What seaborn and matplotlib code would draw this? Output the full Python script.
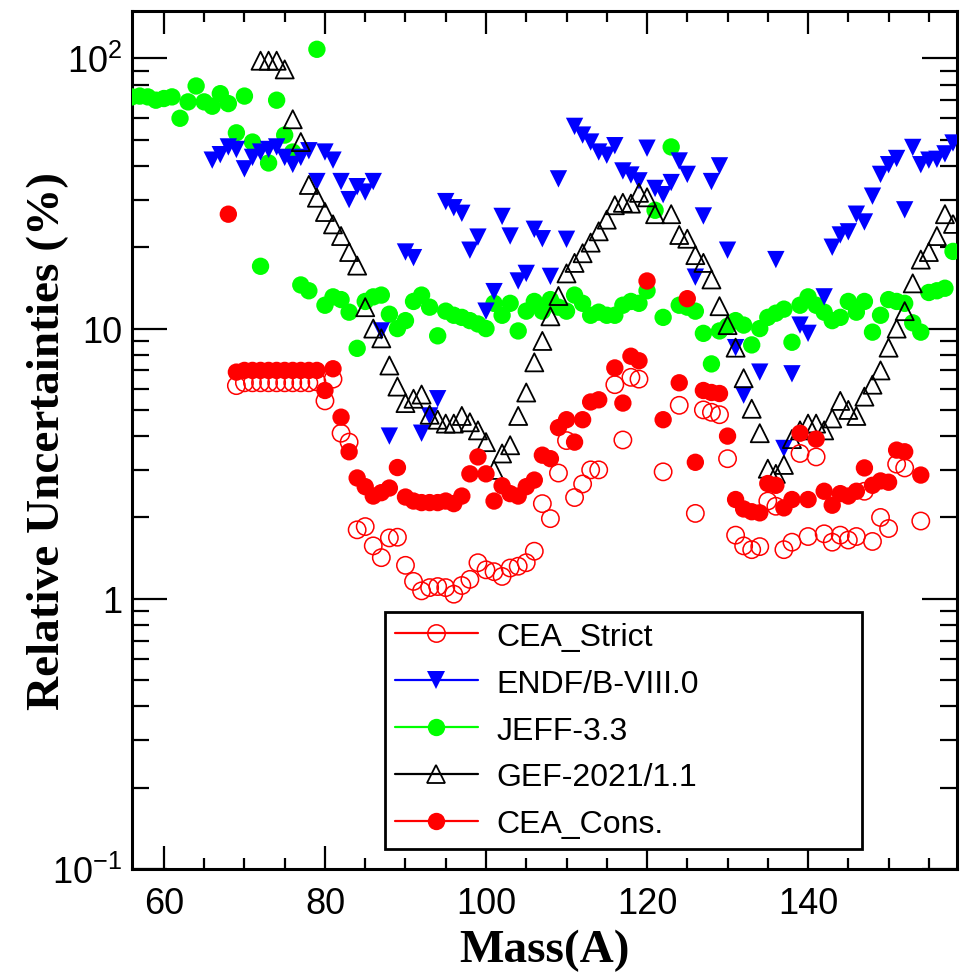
import matplotlib
matplotlib.use("Agg")
import matplotlib.pyplot as plt
import seaborn as sns
import pandas as pd
from matplotlib.lines import Line2D
from matplotlib.ticker import LogLocator, MultipleLocator, FixedLocator, FixedFormatter, NullFormatter

# ---------------------------------------------------------------- data
jeff_mass = list(range(56, 159))
jeff_unc = [72, 72.5, 72, 70, 71, 72, 60, 69, 79, 69,
            66.5, 74, 68, 53, 72.5, 49, 17, 41, 70, 52,
            45, 14.5, 13.8, 108, 12.2, 13.1, 12.8, 11.5, 8.45, 12.6,
            13.1, 13.3, 11.3, 10.0, 10.7, 12.6, 13.3, 12.0, 9.4, 11.6,
            11.2, 11.0, 10.7, 10.4, 10.0, 12.4, 11.2, 12.4, 9.8, 11.6,
            12.6, 11.6, 12.8, 12.0, 11.6, 13.3, 12.4, 11.2, 11.5, 11.2,
            11.2, 12.2, 12.6, 12.4, 13.8, 27.4, 11.0, 47, 12.2, 12.0,
            11.6, 9.6, 7.4, 9.8, 10.2, 10.7, 10.3, 8.7, 10.0, 11.0,
            11.4, 11.8, 8.9, 12.2, 13.1, 12.2, 11.5, 10.7, 11.0, 12.6,
            11.5, 12.6, 9.7, 11.2, 12.8, 12.6, 12.4, 10.5, 9.7, 13.6,
            13.8, 14.1, 19.3]

endf_mass = [66, 67, 68, 69, 70, 71, 72, 73, 74, 75, 76, 77, 78, 79, 80,
             81, 82, 83, 84, 85, 86, 87, 88, 90, 91, 92, 93, 94, 95, 96,
             97, 98, 99, 100, 101, 102, 103, 104, 105, 106, 107, 108, 109, 110, 111,
             112, 113, 114, 115, 116, 117, 118, 119, 120, 121, 122, 123, 124, 125, 126,
             127, 128, 129, 130, 131, 132, 134, 136, 137, 138, 139, 140, 142, 143, 144,
             145, 146, 147, 148, 149, 150, 151, 152, 153, 154, 155, 156, 157, 158]
endf_unc = [42, 44, 47, 46, 39, 43, 45, 46, 47, 43, 40.5, 43, 45.5, 35, 45,
            42, 35, 30, 33.5, 32, 35, 9.8, 4.0, 19.2, 18.3, 4.1, 4.75, 5.5, 29.5, 28,
            26.7, 19.5, 21.8, 11.6, 13.7, 26, 22, 15, 16, 23.3, 21.5, 15.6, 35.8, 21.4, 56,
            52, 49, 45, 43.8, 47.5, 38.3, 37, 35.2, 46.5, 33, 31.3, 34.7, 41.7, 37.2, 15.5,
            26.1, 35, 40, 19.5, 8.5, 5.67, 6.9, 18, 3.6, 6.8, 10.3, 9.6, 13.1, 20, 22.2,
            22.8, 26.5, 24.8, 30.9, 37.2, 40.4, 42.6, 27.5, 46.8, 40.4, 42, 42.3, 44.3, 48.6]

gef_mass = [72, 73, 74, 75, 76, 77, 78, 79, 80, 81, 82, 83, 84, 85, 86,
            87, 88, 89, 90, 91, 92, 93, 94, 95, 96, 97, 98, 99, 100, 101,
            102, 103, 104, 105, 106, 107, 108, 109, 110, 111, 112, 113, 114, 115, 116,
            117, 118, 119, 120, 121, 123, 124, 125, 126, 127, 128, 129, 130, 131, 132,
            133, 134, 135, 136, 137, 138, 139, 140, 141, 142, 143, 144, 145, 146, 147,
            148, 149, 150, 151, 152, 153, 154, 155, 156, 157, 158]
gef_unc = [98, 98, 98, 91, 59.5, 49, 34, 30.5, 27, 24.3, 22, 19.2, 17.1, 12, 10,
           9.2, 7.3, 6.1, 5.3, 5.5, 5.7, 4.8, 4.6, 4.45, 4.45, 4.75, 4.5, 4.2, 3.8, 3.0,
           3.45, 3.7, 4.75, 5.8, 7.5, 9.0, 11.1, 13.2, 16, 17.5, 19, 20.8, 22.9, 25.3, 28.6,
           29.2, 29.0, 31.8, 30.6, 26.5, 26.5, 22.2, 21.5, 18.7, 17.5, 15.2, 12.1, 10.3, 8.5, 6.55,
           5.05, 4.1, 3.03, 2.9, 3.13, 3.9, 4.2, 4.45, 4.45, 4.2, 4.65, 5.4, 5.0, 4.75, 5.6,
           6.2, 7.0, 8.5, 10.0, 11.6, 14.7, 18.0, 19.2, 22, 26.5, 24.4]

strict_mass = [69, 70, 71, 72, 73, 74, 75, 76, 77, 78, 79, 80, 81, 82, 83,
               84, 85, 86, 87, 88, 89, 90, 91, 92, 93, 94, 95, 96, 97, 98,
               99, 100, 101, 102, 103, 104, 105, 106, 107, 108, 109, 110, 111, 112, 113,
               114, 116, 117, 118, 119, 122, 124, 126, 127, 128, 129, 130, 131, 132, 133,
               134, 135, 136, 137, 138, 139, 140, 141, 142, 143, 144, 145, 146, 147, 148,
               149, 150, 151, 152, 154]
strict_unc = [6.15, 6.3, 6.3, 6.3, 6.3, 6.3, 6.3, 6.3, 6.3, 6.3, 6.35, 5.4, 6.5, 4.1, 3.8,
              1.8, 1.85, 1.57, 1.42, 1.68, 1.69, 1.33, 1.16, 1.07, 1.1, 1.11, 1.1, 1.04, 1.12, 1.18,
              1.36, 1.28, 1.26, 1.21, 1.3, 1.32, 1.36, 1.5, 2.25, 1.98, 2.92, 3.85, 2.37, 2.66, 3.0,
              3.0, 6.2, 3.87, 6.6, 6.5, 2.95, 5.2, 2.07, 5.0, 4.9, 4.8, 3.3, 1.72, 1.57, 1.52,
              1.56, 2.3, 2.2, 1.52, 1.62, 3.45, 1.7, 3.35, 1.74, 1.62, 1.72, 1.65, 1.7, 2.5, 1.63,
              2.0, 1.82, 3.15, 3.05, 1.94]

cons_mass = [68, 69, 70, 71, 72, 73, 74, 75, 76, 77, 78, 79, 80, 81, 82,
             83, 84, 85, 86, 87, 88, 89, 90, 91, 92, 93, 94, 95, 96, 97,
             98, 99, 100, 101, 102, 103, 104, 105, 106, 107, 108, 109, 110, 111, 112,
             113, 114, 116, 117, 118, 119, 120, 122, 124, 125, 126, 127, 128, 129, 130,
             131, 132, 133, 134, 135, 136, 137, 138, 139, 140, 141, 142, 143, 144, 145,
             146, 147, 148, 149, 150, 151, 152, 154]
cons_unc = [26.5, 6.9, 7.0, 7.0, 7.0, 7.0, 7.0, 7.0, 7.0, 7.0, 7.0, 7.0, 5.9, 7.1, 4.7,
            3.5, 2.8, 2.6, 2.4, 2.47, 2.57, 3.06, 2.38, 2.3, 2.27, 2.27, 2.27, 2.3, 2.25, 2.4,
            2.9, 3.35, 2.9, 2.3, 2.62, 2.45, 2.4, 2.6, 2.75, 3.4, 3.3, 4.3, 4.6, 3.8, 4.6,
            5.35, 5.45, 7.15, 5.3, 7.9, 7.6, 15, 4.6, 6.3, 12.9, 3.2, 5.9, 5.8, 5.75, 4.0,
            2.33, 2.15, 2.1, 2.08, 2.67, 2.63, 2.17, 2.33, 4.1, 2.33, 3.9, 2.5, 2.22, 2.45, 2.4,
            2.5, 3.05, 2.63, 2.73, 2.7, 3.55, 3.5, 2.87]

legend_labels = ["CEA_Strict", "ENDF/B-VIII.0", "JEFF-3.3", "GEF-2021/1.1", "CEA_Cons."]

# ---------------------------------------------------------------- style
sns.set_style("ticks")
plt.rcParams["font.family"] = ["Liberation Sans", "DejaVu Sans"]
plt.rcParams["text.color"] = "black"
plt.rcParams["axes.labelcolor"] = "black"
plt.rcParams["xtick.color"] = "black"
plt.rcParams["ytick.color"] = "black"

RED, BLUE, GREEN, BLACK = "#ff0000", "#0000ff", "#00ff00", "#000000"
MS = 12.5  # marker size in points

fig = plt.figure(figsize=(9.6, 9.79), dpi=100)
ax = fig.add_axes([0.1372, 0.1113, 0.8597, 0.8767])

def frame(mass, unc):
    return pd.DataFrame({"mass": mass, "unc": unc})

# drawing order: JEFF, ENDF, GEF, CEA strict, CEA conservative
sns.scatterplot(data=frame(jeff_mass, jeff_unc), x="mass", y="unc", ax=ax,
                marker="o", s=MS ** 2, color=GREEN, edgecolor="none",
                linewidth=0, legend=False, zorder=3)
sns.scatterplot(data=frame(endf_mass, endf_unc), x="mass", y="unc", ax=ax,
                marker="v", s=MS ** 2, color=BLUE, edgecolor="none",
                linewidth=0, legend=False, zorder=4)
sns.scatterplot(data=frame(gef_mass, gef_unc), x="mass", y="unc", ax=ax,
                marker="^", s=(MS + 0.5) ** 2, color=BLACK, facecolor="none",
                edgecolor=BLACK, linewidth=1.3, legend=False, zorder=5)
sns.scatterplot(data=frame(strict_mass, strict_unc), x="mass", y="unc", ax=ax,
                marker="o", s=MS ** 2, color=RED, facecolor="none",
                edgecolor=RED, linewidth=1.1, legend=False, zorder=6)
sns.scatterplot(data=frame(cons_mass, cons_unc), x="mass", y="unc", ax=ax,
                marker="o", s=MS ** 2, color=RED, edgecolor="none",
                linewidth=0, legend=False, zorder=7)

# ---------------------------------------------------------------- axes
ax.set_yscale("log")
ax.set_xlim(56, 158.5)
ax.set_ylim(0.1, 150)

ax.xaxis.set_major_locator(MultipleLocator(20))
ax.xaxis.set_minor_locator(MultipleLocator(5))
ax.yaxis.set_major_locator(FixedLocator([0.1, 1, 10, 100]))
ax.yaxis.set_major_formatter(FixedFormatter([r"$\mathregular{10^{-1}}$", "1", "10",
                                             r"$\mathregular{10^{2}}$"]))
ax.yaxis.set_minor_locator(LogLocator(base=10, subs=range(2, 10), numticks=20))
ax.yaxis.set_minor_formatter(NullFormatter())

ax.tick_params(axis="both", which="both", direction="in", top=True, right=True,
               width=1.6, color="black", labelcolor="black", labelsize=26)
ax.tick_params(axis="x", which="major", length=16.5, pad=12)
ax.tick_params(axis="x", which="minor", length=8)
ax.tick_params(axis="y", which="major", length=25, pad=7)
ax.tick_params(axis="y", which="minor", length=12)

for sp in ax.spines.values():
    sp.set_linewidth(2.2)
    sp.set_color("black")

label_font = dict(family=["Liberation Serif", "DejaVu Serif"], weight="bold", size=34,
                  color="black")
ax.set_xlabel("Mass(A)", fontdict=label_font)
ax.set_ylabel("Relative Uncertainties (%)", fontdict=label_font)
ax.xaxis.set_label_coords(0.5, -0.07)
ax.yaxis.set_label_coords(-0.076, 0.5)

# ---------------------------------------------------------------- legend
styles = [
    dict(color=RED, marker="o", markerfacecolor="none", markeredgecolor=RED, markeredgewidth=1.1),
    dict(color=BLUE, marker="v", markerfacecolor=BLUE, markeredgecolor=BLUE, markeredgewidth=0),
    dict(color=GREEN, marker="o", markerfacecolor=GREEN, markeredgecolor=GREEN, markeredgewidth=0),
    dict(color=BLACK, marker="^", markerfacecolor="none", markeredgecolor=BLACK, markeredgewidth=1.3),
    dict(color=RED, marker="o", markerfacecolor=RED, markeredgecolor=RED, markeredgewidth=0),
]
handles = [Line2D([], [], lw=1.6, markersize=MS, **st) for st in styles]
leg = ax.legend(handles, legend_labels, loc="lower left",
                bbox_to_anchor=(0.401, 0.1318, 0.497, 0.2), bbox_transform=fig.transFigure,
                mode="expand", borderaxespad=0, frameon=True, fancybox=False,
                edgecolor="black", framealpha=1, shadow=False,
                prop={"family": ["Liberation Sans", "DejaVu Sans"], "size": 23},
                handlelength=2.6, handletextpad=0.6, borderpad=0.3, labelspacing=0.53)
leg.get_frame().set_linewidth(2.0)
for txt in leg.get_texts():
    txt.set_color("black")
leg.set_zorder(10)

fig.savefig("out.png", dpi=100)
